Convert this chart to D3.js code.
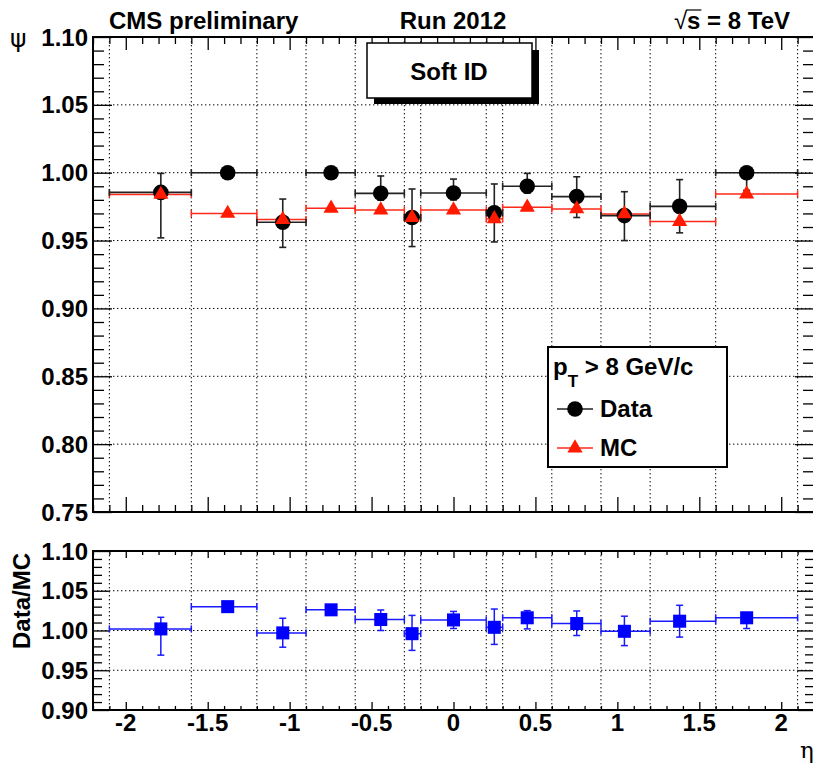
<!DOCTYPE html>
<html>
<head>
<meta charset="utf-8">
<script src="https://cdn.jsdelivr.net/npm/d3@7"></script>
<style>
  html, body { margin: 0; padding: 0; background: #fff; }
  svg { display: block; }
  text { font-family: "Liberation Sans", Arial, Helvetica, sans-serif; font-weight: bold; fill: #000; }
</style>
</head>
<body>
<svg id="chart" width="813" height="765"></svg>
<script>
// ---------------- data ----------------
const binEdges   = [-2.1, -1.6, -1.2, -0.9, -0.6, -0.3, -0.2, 0.2, 0.3, 0.6, 0.9, 1.2, 1.6, 2.1];
const etaCenters = [-1.786, -1.378, -1.042, -0.747, -0.444, -0.253, 0.0, 0.249, 0.45, 0.752, 1.043, 1.38, 1.789];

const dataEff     = [0.9855, 1.000, 0.9635, 1.000, 0.9848, 0.967, 0.985, 0.9704, 0.990, 0.9824, 0.9684, 0.9752, 1.000];
const dataErrLow  = [0.0335, 0.0, 0.0185, 0.0, 0.005, 0.0214, 0.005, 0.0214, 0.005, 0.0154, 0.0184, 0.0195, 0.013];
const dataErrHigh = [0.014, 0.0, 0.0171, 0.0, 0.0128, 0.021, 0.0103, 0.0213, 0.0095, 0.0146, 0.0176, 0.0197, 0.0];

const mcEff = [0.984, 0.970, 0.9655, 0.9738, 0.9725, 0.967, 0.9725, 0.966, 0.9745, 0.9733, 0.9696, 0.964, 0.9843];

const ratio        = [1.002, 1.030, 0.997, 1.026, 1.0138, 0.996, 1.0133, 1.004, 1.016, 1.0088, 0.999, 1.0117, 1.016];
const ratioErrLow  = [0.033, 0.0, 0.018, 0.0, 0.0138, 0.021, 0.0108, 0.0215, 0.014, 0.0151, 0.018, 0.020, 0.0135];
const ratioErrHigh = [0.0146, 0.0, 0.0184, 0.0, 0.012, 0.023, 0.0107, 0.023, 0.009, 0.0158, 0.019, 0.020, 0.0];

const xTickValues   = [-2, -1.5, -1, -0.5, 0, 0.5, 1, 1.5, 2];
const xTickLabels   = ["-2", "-1.5", "-1", "-0.5", "0", "0.5", "1", "1.5", "2"];
const topYTicks     = [0.75, 0.80, 0.85, 0.90, 0.95, 1.00, 1.05, 1.10];
const topYLabels    = ["0.75", "0.80", "0.85", "0.90", "0.95", "1.00", "1.05", "1.10"];
const botYTicks     = [0.90, 0.95, 1.00, 1.05, 1.10];
const botYLabels    = ["0.90", "0.95", "1.00", "1.05", "1.10"];

// ---------------- layout ----------------
const svg = d3.select("#chart");
const L = 93, R = 814;
const topT = 37, topB = 512;
const botT = 551, botB = 710;

const x = d3.scaleLinear().domain([-2.2, 2.2]).range([L, R]);
const yTop = d3.scaleLinear().domain([0.75, 1.10]).range([topB, topT]);
const yBot = d3.scaleLinear().domain([0.90, 1.10]).range([botB, botT]);

const xMinor = d3.range(-22, 23).map(d => d / 10).filter(v => !xTickValues.some(t => Math.abs(t - v) < 1e-9));
function yMinorFor(lo, hi, majors) {
  const out = [];
  for (let i = Math.round(lo * 100); i <= Math.round(hi * 100); i++) {
    const v = i / 100;
    if (!majors.some(t => Math.abs(t - v) < 1e-9)) out.push(v);
  }
  return out;
}
const topYMinor = yMinorFor(0.75, 1.10, topYTicks);
const botYMinor = yMinorFor(0.90, 1.10, botYTicks);

const dotStyle = "1.4,2.6";

function drawGrid(g, yScale, yGridVals, top, bottom) {
  g.selectAll(".vg").data(binEdges).enter().append("line")
    .attr("x1", d => x(d)).attr("x2", d => x(d))
    .attr("y1", top).attr("y2", bottom)
    .attr("stroke", "#000").attr("stroke-width", 1).attr("stroke-dasharray", dotStyle);
  g.selectAll(".hg").data(yGridVals).enter().append("line")
    .attr("x1", L).attr("x2", R)
    .attr("y1", d => yScale(d)).attr("y2", d => yScale(d))
    .attr("stroke", "#000").attr("stroke-width", 1).attr("stroke-dasharray", dotStyle);
}

function styleAxis(sel) {
  sel.select(".domain").remove();
  sel.selectAll(".tick line").attr("stroke", "#000").attr("stroke-width", 1.3);
}

function drawAxes(g, yScale, yMajor, yMinorV, top, bottom, opts) {
  g.append("g").attr("transform", `translate(0,${bottom})`)
    .call(d3.axisBottom(x).tickValues(xTickValues).tickSize(-opts.xMajB).tickFormat("")).call(styleAxis);
  g.append("g").attr("transform", `translate(0,${bottom})`)
    .call(d3.axisBottom(x).tickValues(xMinor).tickSize(-opts.xMinB).tickFormat("")).call(styleAxis);
  g.append("g").attr("transform", `translate(0,${top})`)
    .call(d3.axisTop(x).tickValues(xTickValues).tickSize(-opts.xMajT).tickFormat("")).call(styleAxis);
  g.append("g").attr("transform", `translate(0,${top})`)
    .call(d3.axisTop(x).tickValues(xMinor).tickSize(-opts.xMinT).tickFormat("")).call(styleAxis);
  g.append("g").attr("transform", `translate(${L},0)`)
    .call(d3.axisLeft(yScale).tickValues(yMajor).tickSize(-opts.yMaj).tickFormat("")).call(styleAxis);
  g.append("g").attr("transform", `translate(${L},0)`)
    .call(d3.axisLeft(yScale).tickValues(yMinorV).tickSize(-opts.yMin).tickFormat("")).call(styleAxis);
  g.append("g").attr("transform", `translate(${R},0)`)
    .call(d3.axisRight(yScale).tickValues(yMajor).tickSize(-opts.yMaj).tickFormat("")).call(styleAxis);
  g.append("g").attr("transform", `translate(${R},0)`)
    .call(d3.axisRight(yScale).tickValues(yMinorV).tickSize(-opts.yMin).tickFormat("")).call(styleAxis);
  g.append("rect").attr("x", L).attr("y", top).attr("width", R - L).attr("height", bottom - top)
    .attr("fill", "none").attr("stroke", "#000").attr("stroke-width", 2);
  g.selectAll(".ylab").data(yMajor).enter().append("text")
    .attr("x", 88).attr("y", d => yScale(d)).attr("dy", "0.36em")
    .attr("text-anchor", "end").attr("font-size", 24)
    .text((d, i) => opts.yLabels[i]);
}

function drawErrSeries(g, yScale, vals, lo, hi, color, lw, capColor) {
  const cap = 3.5;
  vals.forEach((v, i) => {
    const x0 = x(binEdges[i]), x1 = x(binEdges[i + 1]);
    const yv = yScale(v), xc = x(etaCenters[i]);
    g.append("line").attr("x1", x0).attr("x2", x1).attr("y1", yv).attr("y2", yv)
      .attr("stroke", color).attr("stroke-width", lw);
    g.append("line").attr("x1", x0).attr("x2", x0).attr("y1", yv - cap).attr("y2", yv + cap)
      .attr("stroke", color).attr("stroke-width", lw);
    g.append("line").attr("x1", x1).attr("x2", x1).attr("y1", yv - cap).attr("y2", yv + cap)
      .attr("stroke", color).attr("stroke-width", lw);
    if (lo && hi) {
      if (hi[i] > 0) {
        const yh = yScale(v + hi[i]);
        g.append("line").attr("x1", xc).attr("x2", xc).attr("y1", yv).attr("y2", yh)
          .attr("stroke", capColor).attr("stroke-width", lw);
        g.append("line").attr("x1", xc - cap).attr("x2", xc + cap).attr("y1", yh).attr("y2", yh)
          .attr("stroke", capColor).attr("stroke-width", lw);
      }
      if (lo[i] > 0) {
        const yl = yScale(v - lo[i]);
        g.append("line").attr("x1", xc).attr("x2", xc).attr("y1", yv).attr("y2", yl)
          .attr("stroke", capColor).attr("stroke-width", lw);
        g.append("line").attr("x1", xc - cap).attr("x2", xc + cap).attr("y1", yl).attr("y2", yl)
          .attr("stroke", capColor).attr("stroke-width", lw);
      }
    }
  });
}

// ---------------- top panel ----------------
const gTop = svg.append("g");
drawGrid(gTop, yTop, [0.80, 0.85, 0.90, 0.95, 1.00, 1.05], topT, topB);

const gMarks = svg.append("g");
drawErrSeries(gMarks, yTop, mcEff, null, null, "#ff2a1a", 1.5, "#ff2a1a");
drawErrSeries(gMarks, yTop, dataEff, dataErrLow, dataErrHigh, "#222", 1.6, "#222");

gMarks.selectAll(".dm").data(dataEff).enter().append("circle")
  .attr("cx", (d, i) => x(etaCenters[i])).attr("cy", d => yTop(d)).attr("r", 7.8)
  .attr("fill", "#000");
const tri = d3.symbol().type(d3.symbolTriangle).size(100);
gMarks.selectAll(".mm").data(mcEff).enter().append("path")
  .attr("d", tri)
  .attr("transform", (d, i) => `translate(${x(etaCenters[i])},${yTop(d)})`)
  .attr("fill", "#ff1a00");

drawAxes(svg.append("g"), yTop, topYTicks, topYMinor, topT, topB,
  { xMajB: 15, xMinB: 7, xMajT: 13, xMinT: 7, yMaj: 19, yMin: 11, yLabels: topYLabels });

// ---------------- bottom panel ----------------
const gBot = svg.append("g");
drawGrid(gBot, yBot, [0.95, 1.00, 1.05], botT, botB);
const gBM = svg.append("g");
drawErrSeries(gBM, yBot, ratio, ratioErrLow, ratioErrHigh, "#1a1aff", 1.5, "#1a1aff");
const sq = d3.symbol().type(d3.symbolSquare).size(170);
gBM.selectAll(".rm").data(ratio).enter().append("path")
  .attr("d", sq)
  .attr("transform", (d, i) => `translate(${x(etaCenters[i])},${yBot(d)})`)
  .attr("fill", "#0000ff");

drawAxes(svg.append("g"), yBot, botYTicks, botYMinor, botT, botB,
  { xMajB: 8, xMinB: 4, xMajT: 7, xMinT: 4, yMaj: 16, yMin: 9, yLabels: botYLabels });

svg.selectAll(".xlab").data(xTickValues).enter().append("text")
  .attr("x", d => x(d)).attr("y", 731)
  .attr("text-anchor", "middle").attr("font-size", 24)
  .text((d, i) => xTickLabels[i]);

// axis titles
svg.append("text").attr("x", 800).attr("y", 758)
  .style("font-family", "'DejaVu Serif', serif").style("font-weight", "normal")
  .attr("font-size", 23).text("η");
svg.append("text").attr("x", 10).attr("y", 47)
  .style("font-family", "'DejaVu Sans', sans-serif").style("font-weight", "normal")
  .attr("font-size", 25).text("ψ");
svg.append("text").attr("transform", "translate(30,601) rotate(-90)")
  .attr("text-anchor", "middle").attr("font-size", 24).text("Data/MC");

// header
svg.append("text").attr("x", 109).attr("y", 29).attr("font-size", 24).text("CMS preliminary");
svg.append("text").attr("x", 453).attr("y", 29).attr("text-anchor", "middle").attr("font-size", 24).text("Run 2012");
const sqrtT = svg.append("text").attr("x", 790).attr("y", 29).attr("text-anchor", "end").attr("font-size", 24);
sqrtT.append("tspan").style("font-weight", "normal").text("√");
sqrtT.append("tspan").text("s = 8 TeV");
try {
  const bb = sqrtT.node().getBBox();
  const n = sqrtT.node();
  const sx0 = bb.x + n.getSubStringLength(0, 1);
  const sx1 = sx0 + n.getSubStringLength(1, 1);
  svg.append("line").attr("x1", sx0 - 1).attr("x2", sx1 + 1).attr("y1", 10).attr("y2", 10)
    .attr("stroke", "#000").attr("stroke-width", 1.2);
} catch (e) {}

// Soft ID box with shadow
svg.append("rect").attr("x", 374).attr("y", 50).attr("width", 165).attr("height", 54).attr("fill", "#000");
svg.append("rect").attr("x", 367).attr("y", 43).attr("width", 165).attr("height", 55)
  .attr("fill", "#fff").attr("stroke", "#000").attr("stroke-width", 1.5);
svg.append("text").attr("x", 449).attr("y", 80).attr("text-anchor", "middle").attr("font-size", 24).text("Soft ID");

// legend
svg.append("rect").attr("x", 548).attr("y", 347).attr("width", 179).attr("height", 120)
  .attr("fill", "#fff").attr("stroke", "#000").attr("stroke-width", 2);
const lt = svg.append("text").attr("x", 553).attr("y", 375).attr("font-size", 24);
lt.append("tspan").text("p");
lt.append("tspan").attr("font-size", 17).attr("dy", 12).text("T");
lt.append("tspan").attr("dy", -12).text(" > 8 GeV/c");

svg.append("line").attr("x1", 557).attr("x2", 593).attr("y1", 409).attr("y2", 409).attr("stroke", "#222").attr("stroke-width", 1.6);
svg.append("circle").attr("cx", 575).attr("cy", 409).attr("r", 7.8).attr("fill", "#000");
svg.append("text").attr("x", 600).attr("y", 417).attr("font-size", 24).text("Data");

svg.append("line").attr("x1", 557).attr("x2", 593).attr("y1", 448).attr("y2", 448).attr("stroke", "#ff2a1a").attr("stroke-width", 1.5);
svg.append("path").attr("d", tri).attr("transform", "translate(575,448)").attr("fill", "#ff1a00");
svg.append("text").attr("x", 600).attr("y", 456).attr("font-size", 24).text("MC");
</script>
</body>
</html>
